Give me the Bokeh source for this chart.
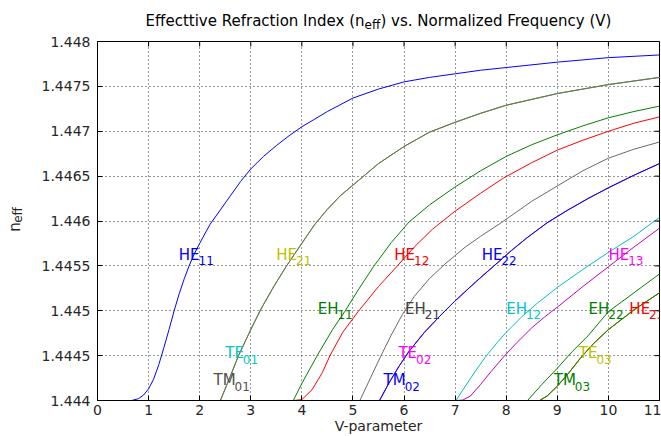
from bokeh.plotting import figure
from bokeh.models import Range1d, FixedTicker, ColumnDataSource
from bokeh.layouts import column, row
from bokeh.embed import file_html
from bokeh.resources import INLINE
from bokeh.core.properties import value
import math

# ---------------------------------------------------------------------------
# Effective index of the guided modes of a step-index fibre versus V
# ---------------------------------------------------------------------------
V_TICKS = list(range(0, 12))
N_TICKS = [1.444, 1.4445, 1.445, 1.4455, 1.446, 1.4465, 1.447, 1.4475, 1.448]
N_TICK_LABELS = ["1.444", "1.4445", "1.445", "1.4455", "1.446",
                 "1.4465", "1.447", "1.4475", "1.448"]

# HE11
v_he11 = [0.67, 0.8, 0.9, 1.0, 1.1, 1.2, 1.3, 1.4, 1.5, 1.6, 1.7, 1.8, 1.9,
          2.0, 2.2, 2.4, 2.6, 2.8, 3.0, 3.25, 3.5, 3.75, 4.0, 4.5, 5.0, 5.5,
          6.0, 6.5, 7.0, 7.5, 8.0, 9.0, 10.0, 11.0]
n_he11 = [1.444, 1.44402, 1.44406, 1.44413, 1.44424, 1.4444, 1.44459, 1.44479,
          1.445, 1.44519, 1.44536, 1.44551, 1.44564, 1.44575, 1.44596, 1.44612,
          1.44628, 1.44644, 1.44658, 1.44672, 1.44684, 1.44695, 1.44705,
          1.44722, 1.44737, 1.44747, 1.44755, 1.4476, 1.44764, 1.44768,
          1.44771, 1.44777, 1.44782, 1.44785]

# TE01 / TM01 / HE21 (degenerate group)
v_te01 = [2.405, 2.6, 2.76, 3.0, 3.2, 3.45, 3.7, 3.95, 4.25, 4.5, 4.75, 5.0,
          5.25, 5.5, 6.0, 6.5, 7.0, 7.5, 8.0, 9.0, 10.0, 11.0]
n_te01 = [1.444, 1.44427, 1.4445, 1.44479, 1.44502, 1.44527, 1.4455, 1.44571,
          1.44596, 1.44613, 1.44628, 1.4464, 1.44652, 1.44664, 1.44683,
          1.44699, 1.4471, 1.4472, 1.44729, 1.44742, 1.44752, 1.4476]

# EH11
v_eh11 = [3.832, 4.0, 4.3, 4.6, 4.85, 5.1, 5.4, 5.75, 6.1, 6.5, 7.0, 7.5, 8.0,
          8.5, 9.0, 9.5, 10.0, 10.5, 11.0]
n_eh11 = [1.444, 1.44419, 1.4445, 1.44479, 1.445, 1.44523, 1.44549, 1.44576,
          1.44599, 1.44618, 1.44638, 1.44656, 1.44672, 1.44685, 1.44696,
          1.44706, 1.44715, 1.44722, 1.44728]

# HE12
v_he12 = [3.832, 4.0, 4.2, 4.4, 4.55, 4.8, 5.1, 5.5, 5.87, 6.2, 6.56, 7.0, 7.5,
          7.95, 8.5, 9.0, 9.5, 10.0, 10.5, 11.0]
n_he12 = [1.444, 1.44401, 1.44412, 1.44431, 1.4445, 1.44476, 1.44499, 1.44527,
          1.4455, 1.44571, 1.44591, 1.44611, 1.44631, 1.44648, 1.44665,
          1.44679, 1.4469, 1.447, 1.44709, 1.44716]

# EH21
v_eh21 = [5.136, 5.35, 5.55, 5.75, 5.97, 6.2, 6.5, 6.82, 7.2, 7.5, 7.9, 8.5,
          9.0, 9.5, 10.0, 10.5, 11.0]
n_eh21 = [1.444, 1.44426, 1.4445, 1.44473, 1.44496, 1.44516, 1.44536, 1.44553,
          1.44571, 1.44583, 1.44598, 1.44622, 1.44639, 1.44656, 1.4467,
          1.4468, 1.44688]

# TE02 / TM02 / HE22
v_te02 = [5.52, 5.7, 5.9, 6.1, 6.4, 6.7, 7.0, 7.4, 7.76, 8.1, 8.4, 8.8, 9.2,
          9.6, 10.0, 10.5, 11.0]
n_te02 = [1.444, 1.44419, 1.44438, 1.44455, 1.44476, 1.44494, 1.44511, 1.44532,
          1.4455, 1.44567, 1.44581, 1.44598, 1.44612, 1.44625, 1.44637,
          1.44651, 1.44664]

# EH12
v_eh12 = [7.016, 7.2, 7.4, 7.6, 7.8, 8.0, 8.3, 8.6, 9.0, 9.5, 10.0, 10.5, 11.0]
n_eh12 = [1.444, 1.44416, 1.44433, 1.44449, 1.44463, 1.44476, 1.44493, 1.44508,
          1.44526, 1.44546, 1.44565, 1.44583, 1.44604]

# HE13
v_he13 = [7.016, 7.15, 7.3, 7.5, 7.7, 7.97, 8.2, 8.5, 8.75, 9.0, 9.5, 10.0,
          10.5, 11.0]
n_he13 = [1.444, 1.444005, 1.44405, 1.44418, 1.44432, 1.4445, 1.44464, 1.44481,
          1.44493, 1.44504, 1.44527, 1.44549, 1.44571, 1.44592]

# EH22
v_eh22 = [8.417, 8.7, 9.0, 9.3, 9.6, 10.0, 10.5, 11.0]
n_eh22 = [1.444, 1.44418, 1.44436, 1.44455, 1.44472, 1.44499, 1.4452, 1.44541]

# TE03 / TM03 / HE23
v_te03 = [8.654, 8.8, 9.0, 9.2, 9.45, 9.7, 10.0, 10.5, 11.0]
n_te03 = [1.444, 1.44405, 1.44416, 1.44429, 1.44447, 1.44463, 1.44479,
          1.44501, 1.4452]

BLUE, GREEN, RED = "#0000ff", "#008000", "#ff0000"
CYAN, MAGENTA, YELLOW, GREY = "#00bfbf", "#bf00bf", "#bfbf00", "#6a6a6a"

# drawing order: later entries sit on top
curves = [
    (v_he11, n_he11, BLUE),
    (v_te01, n_te01, CYAN),     # TE01
    (v_te01, n_te01, YELLOW),   # HE21
    (v_te01, n_te01, GREY),     # TM01
    (v_eh11, n_eh11, GREEN),
    (v_he12, n_he12, RED),
    (v_eh21, n_eh21, GREY),
    (v_te02, n_te02, MAGENTA),  # TE02
    (v_te02, n_te02, BLUE),     # TM02 / HE22
    (v_eh12, n_eh12, CYAN),
    (v_he13, n_he13, MAGENTA),
    (v_eh22, n_eh22, GREEN),
    (v_te03, n_te03, RED),      # HE23
    (v_te03, n_te03, YELLOW),   # TE03
    (v_te03, n_te03, GREEN),    # TM03
]

# mode labels
label_main = ["HE", "HE", "EH", "TE", "TM", "HE", "HE", "EH", "EH", "EH", "HE",
              "TE", "TM", "HE", "TE", "TM"]
label_sub = ["11", "21", "11", "01", "01", "12", "22", "21", "12", "22", "23",
             "02", "02", "13", "03", "03"]
label_v = [1.59, 3.50, 4.31, 2.50, 2.27, 5.81, 7.52, 6.02, 8.0, 9.61, 10.41,
           5.89, 5.60, 10.0, 9.42, 8.93]
label_n = [1.44558, 1.44558, 1.44498, 1.44448, 1.44418, 1.44558, 1.44558,
           1.44498, 1.44498, 1.44498, 1.44498, 1.44448, 1.44418, 1.44558,
           1.44448, 1.44418]
label_color = ["#0000ff", "#bfbf00", "#008000", "#00c8c8", "#505050", "#ff0000",
               "#0000ff", "#404040", "#00c8c8", "#008000", "#ff0000", "#ff00ff",
               "#0000ff", "#ff00ff", "#bfbf00", "#008000"]

FONT = "DejaVu Sans"
MAIN_PX, SUB_PX = 15, 12
# DejaVu Sans advance widths (em) used to place the subscripts
ADV = {"H": 0.752, "E": 0.632, "T": 0.611, "M": 0.863}

X0, X1 = 0, 11
Y0, Y1 = 1.444, 1.448
W, H = 661, 436
TITLE_H = 32       # strip holding the title
YLAB_W = 30        # strip holding the y-axis label
MAIN_W = W - YLAB_W
MAIN_H = H - TITLE_H


def strip(width, height, x_range, y_range):
    s = figure(width=width, height=height, x_range=x_range, y_range=y_range,
               output_backend="svg", toolbar_location=None, title=None,
               x_axis_type=None, y_axis_type=None,
               min_border_left=0, min_border_right=0,
               min_border_top=0, min_border_bottom=0)
    s.outline_line_color = None
    s.background_fill_color = "white"
    s.border_fill_color = "white"
    s.grid.visible = False
    return s


# ---- main plot -------------------------------------------------------------
p = figure(width=MAIN_W, height=MAIN_H, x_range=Range1d(X0, X1),
           y_range=Range1d(Y0, Y1), output_backend="svg",
           toolbar_location=None, title=None,
           min_border_left=67, min_border_right=2,
           min_border_top=9, min_border_bottom=36)
p.background_fill_color = "white"
p.border_fill_color = "white"
p.outline_line_color = "black"
p.outline_line_width = 1

for ax in (p.xaxis, p.yaxis):
    ax.axis_line_color = "black"
    ax.major_tick_line_color = "black"
    ax.major_tick_in = 5
    ax.major_tick_out = 0
    ax.minor_tick_line_color = None
    ax.major_label_text_font = FONT
    ax.major_label_text_font_size = "14px"
    ax.major_label_text_color = "#262626"
p.xaxis.ticker = FixedTicker(ticks=V_TICKS)
p.yaxis.ticker = FixedTicker(ticks=N_TICKS)
p.yaxis.major_label_overrides = dict(zip(N_TICKS, N_TICK_LABELS))
p.xaxis.major_label_standoff = 4
p.yaxis.major_label_standoff = 7
p.xaxis.axis_label = "V-parameter"
p.xaxis.axis_label_standoff = 0
p.xaxis.axis_label_text_font = FONT
p.xaxis.axis_label_text_font_size = "14px"
p.xaxis.axis_label_text_font_style = "normal"
p.xaxis.axis_label_text_color = "#262626"

for g in (p.xgrid, p.ygrid):
    g.grid_line_color = "black"
    g.grid_line_dash = "1 3"
    g.grid_line_alpha = 0.8
    g.grid_line_width = 1
p.xgrid.ticker = FixedTicker(ticks=V_TICKS)
p.ygrid.ticker = FixedTicker(ticks=N_TICKS)

for vs, ns, col in curves:
    p.line(vs, ns, line_color=col, line_width=1)

# inward ticks mirrored on the top and right edges (outer half is clipped)
p.scatter(V_TICKS, [Y1] * len(V_TICKS), marker="dash", angle=math.pi / 2,
          size=10, line_color="black", line_width=1)
p.scatter([X1] * len(N_TICKS), N_TICKS, marker="dash",
          size=10, line_color="black", line_width=1)

sub_dx = [sum(ADV[c] for c in m) * MAIN_PX - 1 for m in label_main]
lab_src = ColumnDataSource(dict(x=label_v, y=label_n, main=label_main,
                                sub=label_sub, color=label_color, dx=sub_dx))
p.text(x="x", y="y", text="main", source=lab_src, text_color="color",
       text_font=value(FONT), text_font_size=f"{MAIN_PX}px",
       text_baseline="alphabetic", text_align="left", y_offset=-4)
p.text(x="x", y="y", text="sub", source=lab_src, text_color="color",
       text_font=value(FONT), text_font_size=f"{SUB_PX}px",
       text_baseline="alphabetic", text_align="left",
       x_offset="dx", y_offset=2)

# ---- title strip (canvas pixel coordinates, y downwards) --------------------
t = strip(W, TITLE_H, Range1d(0, W), Range1d(TITLE_H, 0))
t.text(x=[364], y=[20], text=["Effecttive Refraction Index (n"],
       text_align="right", text_baseline="alphabetic", text_color="black",
       text_font=value(FONT), text_font_size="15px")
t.text(x=[364], y=[24], text=["eff"], text_align="left",
       text_baseline="alphabetic", text_color="black",
       text_font=value(FONT), text_font_size="12px")
t.text(x=[380], y=[20], text=[") vs. Normalized Frequency (V)"],
       text_align="left", text_baseline="alphabetic", text_color="black",
       text_font=value(FONT), text_font_size="15px")

# ---- y-axis label strip -----------------------------------------------------
yl = strip(YLAB_W, MAIN_H, Range1d(0, YLAB_W), Range1d(H, TITLE_H))
yl.text(x=[14], y=[246], text=["n"], angle=math.pi / 2, text_align="left",
        text_baseline="alphabetic", text_color="#262626",
        text_font=value(FONT), text_font_size="15px")
yl.text(x=[17], y=[236], text=["eff"], angle=math.pi / 2, text_align="left",
        text_baseline="alphabetic", text_color="#262626",
        text_font=value(FONT), text_font_size="12px")

layout = column(t, row(yl, p, spacing=0), spacing=0)
open("out.html", "w").write(file_html(layout, INLINE))
